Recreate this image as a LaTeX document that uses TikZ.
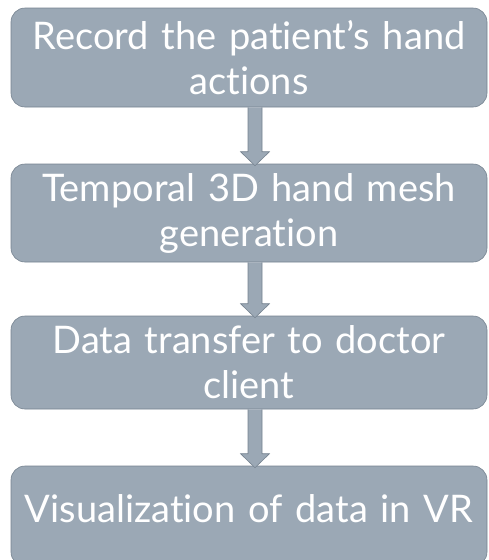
\documentclass[tikz,border=0pt]{standalone}
\usepackage{fontspec}
\setmainfont{Lato}[Ligatures=NoCommon]
\usetikzlibrary{calc}
\definecolor{boxfill}{RGB}{155,168,181}
\definecolor{boxline}{RGB}{118,131,144}
\tikzset{every path/.style={semithick}}
\tikzset{
  stepbox/.style={draw=boxline, fill=boxfill, line width=0.6pt, rounded corners=14pt,
    minimum width=476pt, inner sep=0pt, text width=470pt, align=center,
    text=white, font=\fontsize{38}{45}\selectfont},
  blockarrow/.style={draw=boxline, fill=boxfill, line width=0.6pt, to path={
    let \p1=(\tikztostart), \p2=(\tikztotarget) in
    (\x1-7pt,\y1) -- (\x1-7pt,\y2+14pt) -- (\x1-14.5pt,\y2+14pt) -- (\x1,\y2)
    -- (\x1+14.5pt,\y2+14pt) -- (\x1+7pt,\y2+14pt) -- (\x1+7pt,\y1)}}
}

\begin{document}
\begin{tikzpicture}[x=1pt,y=1pt]
    \useasboundingbox (0,0) rectangle (488,-560);

    \node[stepbox, minimum height=99pt] (record) at (249,-57.5) {Record the patient’s hand \\ actions};
    \node[stepbox, minimum height=98pt] (mesh) at (249,-213) {Temporal 3D hand mesh \\ generation};
    \node[stepbox, minimum height=93pt] (transfer) at (249,-362.5) {Data transfer to doctor \\ client};
    \node[stepbox, minimum height=100pt, text height=28pt, text depth=16pt] (vr) at (249,-516) {Visualization of data in VR};

    \draw[blockarrow] ([xshift=6pt]record.south) to ([xshift=6pt,yshift=-2pt]mesh.north);
    \draw[blockarrow] ([xshift=6pt]mesh.south) to ([xshift=6pt,yshift=-2pt]transfer.north);
    \draw[blockarrow] ([xshift=6pt]transfer.south) to ([xshift=6pt,yshift=-2pt]vr.north);
\end{tikzpicture}
\end{document}
